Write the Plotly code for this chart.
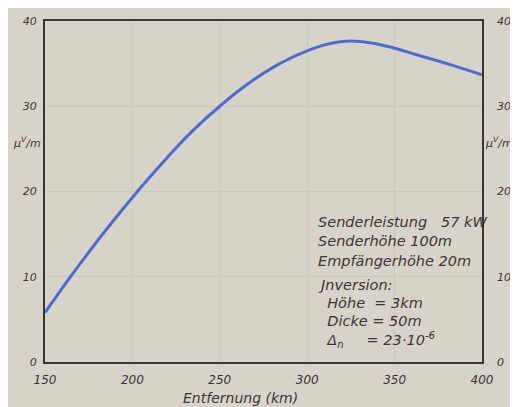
import plotly.graph_objects as go

# Data
entfernung_km = [150, 160, 170, 180, 190, 200, 210, 220, 230, 240, 250, 260, 270,
                 280, 290, 300, 310, 320, 330, 340, 350, 360, 370, 380, 390, 400]
feldstaerke = [5.8, 8.7, 11.5, 14.2, 16.8, 19.3, 21.7, 24.0, 26.2, 28.2, 30.0, 31.7, 33.2,
               34.5, 35.6, 36.5, 37.2, 37.6, 37.6, 37.3, 36.8, 36.2, 35.6, 35.0, 34.35, 33.7]
x_ticks = [150, 200, 250, 300, 350, 400]
y_ticks = [0, 10, 20, 30, 40]
x_title = "Entfernung (km)"
info_lines = ["Senderleistung   57 kW", "Senderhöhe 100m", "Empfängerhöhe 20m",
              "Jnversion:", "  Höhe  = 3km", "  Dicke = 50m",
              "  Δ<sub>n</sub>     = 23·10<sup>-6</sup>"]

paper = "#d8d3c8"
ink = "#3a3632"
font_family = "DejaVu Sans"

fig = go.Figure()
fig.add_trace(go.Scatter(x=entfernung_km, y=feldstaerke, mode="lines",
                         line=dict(color="#4a6cd8", width=3, shape="spline", smoothing=1.0),
                         showlegend=False, hoverinfo="skip"))
fig.add_trace(go.Scatter(x=[entfernung_km[0]], y=[feldstaerke[0]], yaxis="y2",
                         mode="markers", marker=dict(opacity=0), showlegend=False,
                         hoverinfo="skip"))

tickfont = dict(family=font_family, size=11, color=ink, style="italic")

fig.update_layout(
    width=510, height=399,
    margin=dict(l=37, r=30, t=7, b=45),
    paper_bgcolor=paper, plot_bgcolor=paper,
    xaxis=dict(range=[150, 400], tickvals=x_ticks, showgrid=True,
               gridcolor="#cdc8bd", gridwidth=1, zeroline=False,
               showline=True, linecolor=ink, linewidth=2, mirror=True,
               ticks="", ticklabelstandoff=6,
               tickfont=dict(family=font_family, size=12, color=ink, style="italic")),
    yaxis=dict(range=[0, 40], tickvals=y_ticks, showgrid=True,
               gridcolor="#cdc8bd", gridwidth=1, zeroline=False,
               showline=True, linecolor=ink, linewidth=2, mirror=True,
               ticks="", ticklabelstandoff=4, tickfont=tickfont),
    yaxis2=dict(range=[0, 40], tickvals=y_ticks, overlaying="y", side="right",
                showgrid=False, zeroline=False, showline=False, ticks="",
                ticklabelstandoff=14, tickfont=tickfont),
)

# x-axis title (placed slightly left of centre, as in the original)
fig.add_annotation(xref="x", yref="paper", x=262, y=0, yshift=-36, text=x_title,
                   showarrow=False, xanchor="center", yanchor="middle",
                   font=dict(family=font_family, size=14, color=ink, style="italic"))

# unit labels
for xp, anchor in [(0.0, "right"), (1.0, "left")]:
    fig.add_annotation(xref="paper", yref="y", x=xp, y=25.8,
                       xshift=-2 if anchor == "right" else 1,
                       text="µ<sup>V</sup>/m", showarrow=False, xanchor=anchor,
                       font=dict(family=font_family, size=11, color=ink, style="italic"))

# info block
y_positions = [16.4, 14.2, 11.9, 9.0, 6.9, 4.8, 2.6]
for line, yv in zip(info_lines, y_positions):
    fig.add_annotation(xref="x", yref="y", x=305, y=yv, text=line.replace(" ", "&nbsp;"),
                       showarrow=False, xanchor="left", yanchor="middle",
                       font=dict(family=font_family, size=14.5, color=ink, style="italic"))

fig.write_html("out.html")
